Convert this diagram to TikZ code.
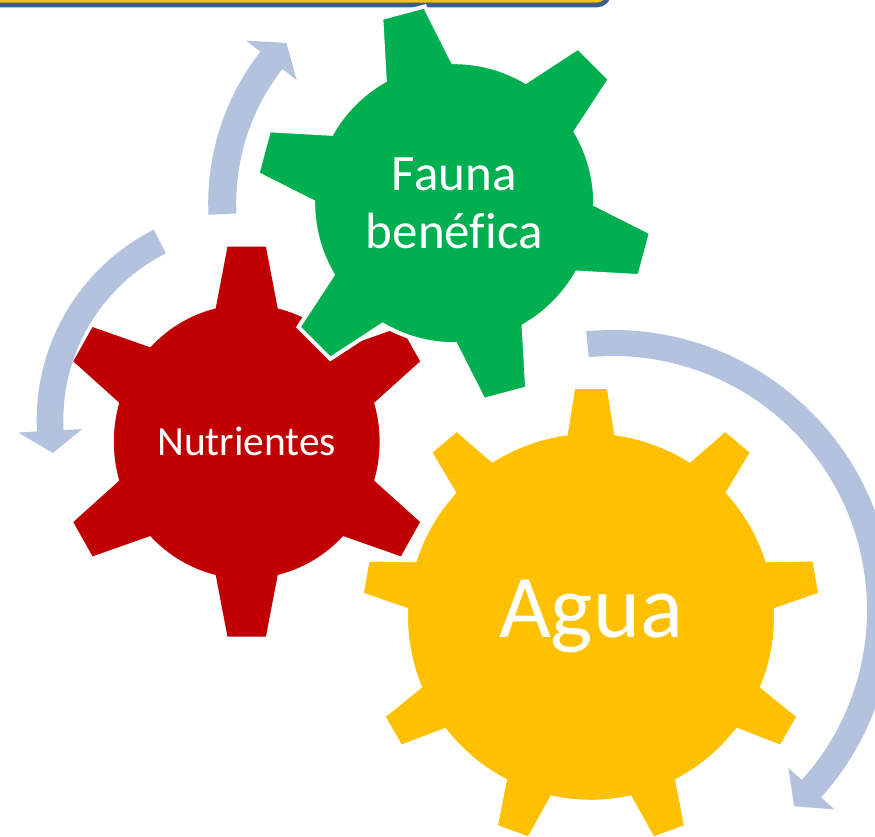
\documentclass[tikz,border=0pt]{standalone}
\usepackage{fontspec}
\setmainfont{Carlito}[Ligatures=NoCommon]
\usetikzlibrary{positioning}

\definecolor{rojo}{RGB}{192,0,0}
\definecolor{verde}{RGB}{0,176,80}
\definecolor{amarillo}{RGB}{255,192,0}
\definecolor{flechaazul}{RGB}{179,195,222}
\definecolor{barazul}{RGB}{58,95,140}

\begin{document}
\begin{tikzpicture}[
    x=1pt, y=1pt,
    rueda/.style={draw=white, line width=4pt, line join=miter},
    flecha/.style={fill=flechaazul},
    rotulo/.style={text=white, align=center, inner sep=0pt}
]
   \useasboundingbox (0,0) rectangle (875,836);
   \clip (0,0) rectangle (875,836);

   % Centres
   \coordinate (cRojo) at (246.7,394.3);
   \coordinate (cVerde) at (454.2,632.8);
   \coordinate (cAmarillo) at (591,219.2);

   % Title box, cut at the top
   \draw[draw=barazul, fill=amarillo, line width=4.6pt, rounded corners=12pt]
        (-20,880) rectangle (609,831);

   % Arrows
   \begin{scope}[shift={(cVerde)}]
     \fill[flecha] (182.7:246) arc[start angle=182.7, end angle=142, radius=246]
          -- (142:264) -- (136.3:232) -- (142:200) -- (142:218)
          arc[start angle=142, end angle=182.7, radius=218] -- cycle;
   \end{scope}
   \begin{scope}[shift={(250,416)}]
     \fill[flecha] (116.8:213.3) arc[start angle=116.8, end angle=183.1, radius=213.3]
          -- (183.1:232) -- (189.5:200) -- (183.1:168) -- (183.1:186.7)
          arc[start angle=183.1, end angle=116.8, radius=186.7] -- cycle;
   \end{scope}
   \begin{scope}[shift={(613,226)}]
     \fill[flecha] (95.5:280) arc[start angle=95.5, end angle=-42, radius=280]
          -- (-42:298) -- (-47.3:267) -- (-42:236) -- (-42:254)
          arc[start angle=-42, end angle=95.5, radius=254] -- cycle;
   \end{scope}

   % Gears
   \begin{scope}[shift={(cRojo)}, xscale=0.97]
     \fill[rojo] (16.5:137) \foreach \t in {30,90,...,330} {
          -- ({\t-5.8}:196) -- ({\t+5.8}:196) -- ({\t+13.5}:137)
          arc[start angle={\t+13.5}, end angle={\t+46.5}, radius=137]} -- cycle;
   \end{scope}
   \begin{scope}[shift={(cVerde)}]
     \filldraw[rueda, fill=verde] (30.5:141) \foreach \t in {45,105,...,345} {
          -- ({\t-6.5}:199) -- ({\t+6.5}:199) -- ({\t+14.5}:141)
          arc[start angle={\t+14.5}, end angle={\t+45.5}, radius=141]} -- cycle;
   \end{scope}
   \begin{scope}[shift={(cAmarillo)}]
     \filldraw[rueda, fill=amarillo] (2.2:185) \foreach \t in {10,50,...,330} {
          -- ({\t-4.4}:230.5) -- ({\t+4.4}:230.5) -- ({\t+7.8}:185)
          arc[start angle={\t+7.8}, end angle={\t+32.2}, radius=185]} -- cycle;
   \end{scope}

   % Labels
   \node[rotulo, font=\fontsize{51}{58.5}\selectfont] (fauna) at (cVerde) {Fauna\\benéfica};
   \node[rotulo, font=\fontsize{41.5}{50}\selectfont] (nutrientes) at (cRojo) {Nutrientes};
   \node[rotulo, font=\fontsize{89.5}{107}\selectfont] (agua) at (cAmarillo) {Agua};

\end{tikzpicture}
\end{document}
